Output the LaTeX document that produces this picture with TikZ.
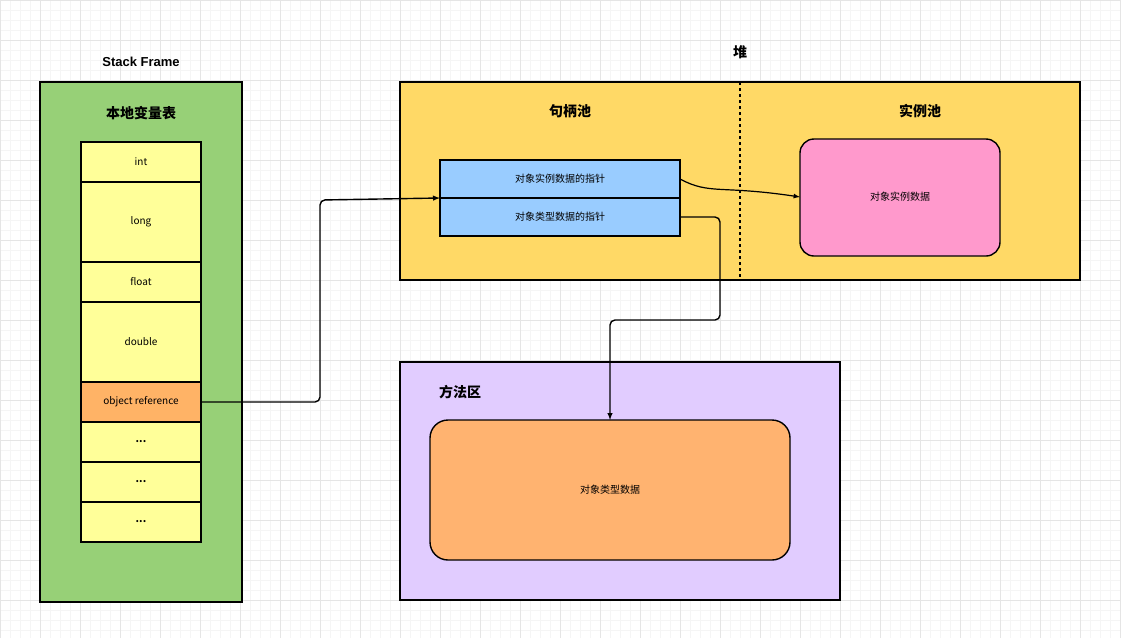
\documentclass[tikz,border=0pt]{standalone}
\usepackage{fontspec}
\setmainfont{Liberation Sans}
\newfontfamily\cjk{Noto Sans CJK SC}
\begin{document}
\begin{tikzpicture}[x=1pt,y=-1pt,
 box/.style={draw=black,line width=1.4pt},
 cell/.style={draw=black,line width=1.2pt,fill=cellY},
 lab/.style={font=\fontsize{10}{12}\selectfont\cjk},
 ttl/.style={font=\fontsize{14}{16}\selectfont\bfseries\cjk},
 con/.style={line width=1.4pt,rounded corners=5pt,-latex}]
\definecolor{cellY}{HTML}{FFFF99}
\useasboundingbox (0,0) rectangle (1121,638);
\foreach \x in {0,10,...,1120} \draw[black!4] (\x,0)--(\x,638);
\foreach \y in {0,10,...,630} \draw[black!4] (0,\y)--(1121,\y);
\foreach \x in {0,40,...,1120} \draw[black!10] (\x,0)--(\x,638);
\foreach \y in {0,40,...,630} \draw[black!10] (0,\y)--(1121,\y);
% stack
\node[font=\fontsize{13}{15}\selectfont\bfseries] (sft) at (141,62) {Stack Frame};
\draw[box,fill={rgb,255:red,151;green,208;blue,119}] (40,82) rectangle (242,602);
\node[ttl] (lvt) at (141,113) {本地变量表};
\foreach \n/\a/\b/\t in {c1/142/182/int,c2/182/262/long,c3/262/302/float,c4/302/382/double,c6/422/462/\textbf{...},c7/462/502/\textbf{...},c8/502/542/\textbf{...}}
 {\draw[cell] (81,\a) rectangle (201,\b); \node[lab] (\n) at (141,{(\a+\b)/2}) {\t};}
\draw[cell,fill={rgb,255:red,255;green,179;blue,102}] (81,382) rectangle (201,422);
\node[lab] (oref) at (141,402) {object reference};
\coordinate (orefR) at (201,402);
% heap
\node[ttl] (heapT) at (740,52) {堆};
\draw[box,fill={rgb,255:red,255;green,217;blue,102}] (400,82) rectangle (1080,280);
\draw[line width=1.4pt,dashed] (740,82)--(740,280);
\node[ttl] (hp) at (570,111) {句柄池};
\node[ttl] (ip) at (920,111) {实例池};
\draw[cell,fill={rgb,255:red,153;green,204;blue,255}] (440,160) rectangle (680,198);
\draw[cell,fill={rgb,255:red,153;green,204;blue,255}] (440,198) rectangle (680,236);
\node[lab] (p1) at (560,179) {对象实例数据的指针};
\node[lab] (p2) at (560,217) {对象类型数据的指针};
\draw[box,rounded corners=14pt,fill={rgb,255:red,255;green,153;blue,204}] (800,139) rectangle (1000,256);
\node[lab] (inst) at (900,197) {对象实例数据};
% method area
\draw[box,fill={rgb,255:red,225;green,204;blue,255}] (400,362) rectangle (840,600);
\node[ttl] (ma) at (460,392) {方法区};
\draw[box,rounded corners=18pt,fill={rgb,255:red,255;green,179;blue,112}] (430,420) rectangle (790,560);
\node[lab] (typ) at (610,490) {对象类型数据};
% connectors
\draw[con] (201,402) -- (320,402) -- (320,200) -- (440,198);
\draw[line width=1.2pt,-latex] (680,179) .. controls (710,195) and (720,185) .. (800,197);
\draw[con] (680,217) -- (720,217) -- (720,320) -- (610,320) -- (610,420);
\end{tikzpicture}
\end{document}
